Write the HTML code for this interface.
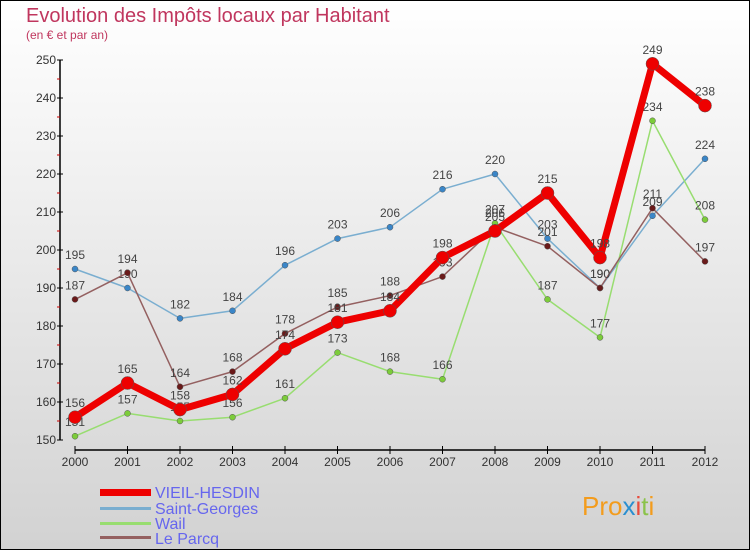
<!DOCTYPE html>
<html><head><meta charset="utf-8"><style>
body{margin:0}
#c{width:750px;height:550px;position:relative;overflow:hidden;font-family:"Liberation Sans","DejaVu Sans",sans-serif}
</style></head><body>
<div id="c">
<svg id="s" width="750" height="550" xmlns="http://www.w3.org/2000/svg">
<defs><linearGradient id="bg" x1="0" y1="0" x2="0" y2="1"><stop offset="0" stop-color="#ffffff"/><stop offset="1" stop-color="#d2d2d2"/></linearGradient></defs>
<rect x="0.5" y="0.5" width="749" height="549" fill="url(#bg)" stroke="#000"/>
<text x="26" y="22" font-size="20" fill="#c0365e">Evolution des Impôts locaux par Habitant</text>
<text x="26" y="39" font-size="12" fill="#c0365e">(en € et par an)</text>
<g id="axes"></g><g id="series"></g>
<g>
<rect x="100" y="489" width="51" height="7" fill="#e00"/>
<text x="155" y="498" font-size="16" fill="#6666ee">VIEIL-HESDIN</text>
<rect x="100" y="507" width="51" height="3" fill="#7aaed0"/>
<text x="155" y="514" font-size="16" fill="#6666ee">Saint-Georges</text>
<rect x="100" y="522" width="51" height="3" fill="#98dd70"/>
<text x="155" y="529" font-size="16" fill="#6666ee">Wail</text>
<rect x="100" y="536" width="51" height="3" fill="#946060"/>
<text x="155" y="544" font-size="16" fill="#6666ee">Le Parcq</text>
</g>
<text x="582" y="515" font-size="26" fill="#f39c1d">Pro<tspan fill="#2a8fd0">x</tspan><tspan fill="#e94b3c">i</tspan><tspan fill="#8bc34a">t</tspan>i</text>
</svg>
</div>
<script>
const years=[2000,2001,2002,2003,2004,2005,2006,2007,2008,2009,2010,2011,2012];
const yTicks=[150,160,170,180,190,200,210,220,230,240,250];
const vieil=[156,165,158,162,174,181,184,198,205,215,198,249,238];
const saintGeorges=[195,190,182,184,196,203,206,216,220,203,190,209,224];
const wail=[151,157,155,156,161,173,168,166,207,187,177,234,208];
const leParcq=[187,194,164,168,178,185,188,193,206,201,190,211,197];
const NS="http://www.w3.org/2000/svg";
function X(i){return 75+i*52.5;}
function Y(v){return 440-(v-150)*3.8;}
function mk(t,a,p){const e=document.createElementNS(NS,t);for(const k in a)e.setAttribute(k,a[k]);p.appendChild(e);return e;}
const ax=document.getElementById('axes');
let yl=mk('line',{x1:60,y1:Y(250),x2:60,y2:Y(150),stroke:'#000','stroke-width':1.5},ax);


yTicks.forEach(v=>{mk('line',{x1:57,x2:63,y1:Y(v),y2:Y(v),stroke:'#000'},ax);
 if(v<250)mk('line',{x1:57,x2:60,y1:Y(v+5),y2:Y(v+5),stroke:'#c00'},ax);
 const t=mk('text',{x:56,y:Y(v)+4,'font-size':12,fill:'#333','text-anchor':'end'},ax);t.textContent=v;
 
 });
let xl=mk('line',{x1:X(0),y1:450,x2:X(12),y2:450,stroke:'#000','stroke-width':1.5},ax);


years.forEach((y,i)=>{mk('line',{x1:X(i),x2:X(i),y1:446,y2:454,stroke:'#000'},ax);
 const t=mk('text',{x:X(i),y:466,'font-size':12,fill:'#333','text-anchor':'middle'},ax);t.textContent=y;
 
 });
const sg=document.getElementById('series');
function draw(d,col,w,r,name,dot){
 const g=mk('g',{},sg);
 
 
 mk('polyline',{points:d.map((v,i)=>X(i)+','+Y(v)).join(' '),fill:'none',stroke:col,'stroke-width':w,'stroke-linejoin':'round'},g);
 d.forEach((v,i)=>{const c=mk('circle',{cx:X(i),cy:Y(v),r:r,fill:dot,stroke:'#555','stroke-width':0.5},g);
  
  
  const t=mk('text',{x:X(i),y:Y(v)-10,'font-size':12,fill:'#444','text-anchor':'middle'},g);t.textContent=v;
  
  });
}
draw(saintGeorges,'#7aaed0',1.5,3,'saint-georges','#3a86c8');
draw(wail,'#98dd70',1.5,3,'wail','#7ccc3a');
draw(leParcq,'#946060',1.5,3,'le-parcq','#6a1a1a');
draw(vieil,'#ee0000',7,6.5,'vieil-hesdin','#ee0000');
</script>
</body></html>
